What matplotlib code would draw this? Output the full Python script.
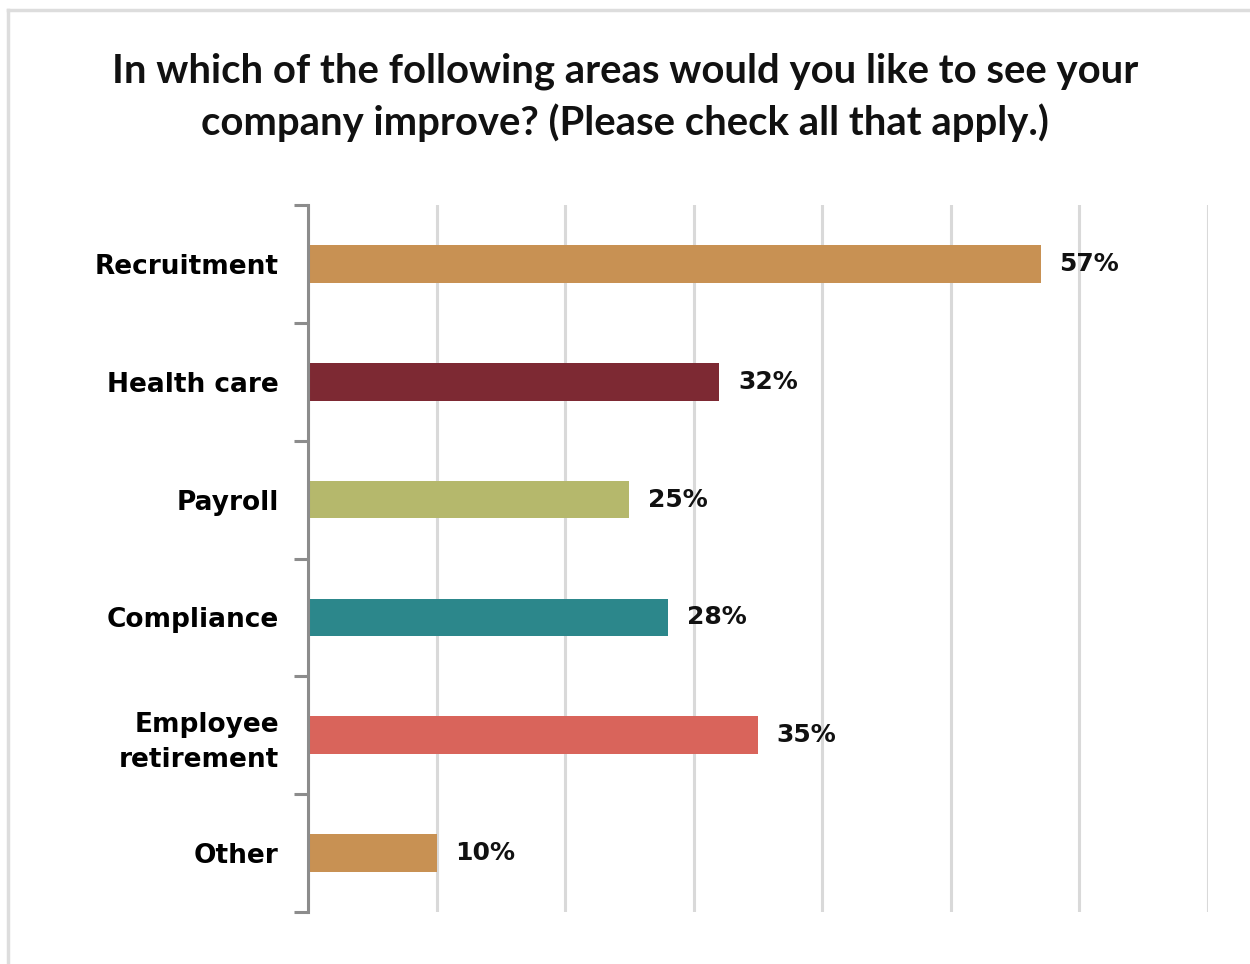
"""Horizontal bar chart: areas where respondents want their company to improve."""

import matplotlib as mpl
import numpy as np
from matplotlib import pyplot as plt
from matplotlib.lines import Line2D

mpl.use("Agg")

categories = ["Recruitment", "Health care", "Payroll", "Compliance",
              "Employee\nretirement", "Other"]
values = [57, 32, 25, 28, 35, 10]
bar_colors = ["#C89153", "#7D2933", "#B5B86C", "#2C878B", "#D9645B", "#C89153"]
title = ("In which of the following areas would you like to see your\n"
         "company improve? (Please check all that apply.)")

W, H = 1250, 964
fig = plt.figure(figsize=(W / 100, H / 100), dpi=100)

# light frame along top and left edges
fig.add_artist(Line2D([8 / W, 8 / W], [0, 1 - 10 / H], transform=fig.transFigure,
                      color="#DDDDDD", linewidth=2.5))
fig.add_artist(Line2D([8 / W, 1], [1 - 10 / H, 1 - 10 / H], transform=fig.transFigure,
                      color="#DDDDDD", linewidth=2.5))

ax = fig.add_axes([308 / W, 1 - 912 / H, 900 / W, 707 / H])

y = np.arange(len(categories))
ax.barh(y, values, height=0.32, color=bar_colors, zorder=2)
for yi, v in zip(y, values):
    ax.text(v + 1.45, yi, f"{v}%", va="center", ha="left", fontsize=18,
            fontweight="bold", family="DejaVu Sans", color="#111111", zorder=1)

ax.set_xlim(0, 70)
ax.set_ylim(len(categories) - 0.5, -0.5)
ax.set_xticks(np.arange(0, 71, 10))
ax.tick_params(axis="x", length=0, labelbottom=False)
ax.xaxis.grid(True, color="#D9D9D9", linewidth=2.2, zorder=0)
ax.set_axisbelow(True)

ax.set_yticks(y)
ax.set_yticklabels(categories, fontsize=19, fontweight="bold", family="DejaVu Sans",
                   linespacing=1.45)
ax.tick_params(axis="y", length=0, pad=21)
ax.set_yticks(np.arange(-0.5, len(categories), 1), minor=True)
ax.tick_params(axis="y", which="minor", length=10, width=2.2, color="#8C8C8C")

for side in ["top", "right", "bottom"]:
    ax.spines[side].set_visible(False)
ax.spines["left"].set_color("#8C8C8C")
ax.spines["left"].set_linewidth(2.2)

fig.text(0.5, 1 - 97 / H, title, ha="center", va="center", fontsize=28.8,
         fontweight="bold", family="Lato", linespacing=1.42, color="#111111")

fig.savefig("out.png", dpi=100)
plt.close(fig)
